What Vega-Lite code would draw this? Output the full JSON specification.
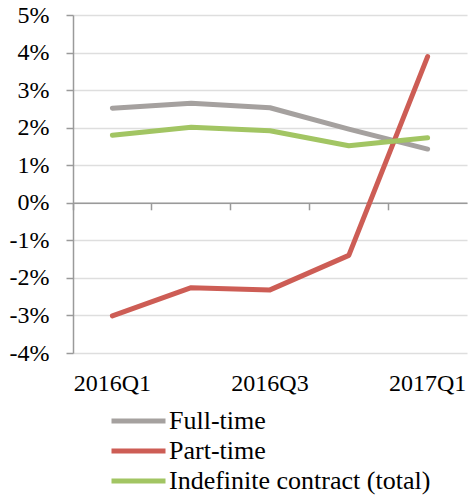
{
  "$schema": "https://vega.github.io/schema/vega-lite/v6.json",
  "width": 394,
  "height": 338,
  "autosize": {"type": "none"},
  "padding": {"left": 73, "top": 15, "right": 3, "bottom": 145},
  "background": "white",
  "config": {
    "view": {"stroke": null},
    "font": "Liberation Serif",
    "axis": {"labelFont": "Liberation Serif", "labelFontSize": 24, "labelColor": "#000"},
    "axisY": {
      "labelFont": "Liberation Serif", "labelFontSize": 24, "labelColor": "#000",
      "labelPadding": 17, "labelOverlap": false,
      "domainColor": "#9a9a9a", "domainWidth": 1.5,
      "tickColor": "#9a9a9a", "tickWidth": 1.5, "tickSize": 7,
      "gridColor": "#dedede", "gridWidth": 1.5
    },
    "legend": {"labelFont": "Liberation Serif"}
  },
  "data": {
    "values": [
      {"quarter": "2016Q1", "series": "Full-time", "value": 2.52},
      {"quarter": "2016Q2", "series": "Full-time", "value": 2.65},
      {"quarter": "2016Q3", "series": "Full-time", "value": 2.53},
      {"quarter": "2016Q4", "series": "Full-time", "value": 1.96},
      {"quarter": "2017Q1", "series": "Full-time", "value": 1.43},
      {"quarter": "2016Q1", "series": "Part-time", "value": -3.01},
      {"quarter": "2016Q2", "series": "Part-time", "value": -2.26},
      {"quarter": "2016Q3", "series": "Part-time", "value": -2.32},
      {"quarter": "2016Q4", "series": "Part-time", "value": -1.4},
      {"quarter": "2017Q1", "series": "Part-time", "value": 3.89},
      {"quarter": "2016Q1", "series": "Indefinite contract (total)", "value": 1.8},
      {"quarter": "2016Q2", "series": "Indefinite contract (total)", "value": 2.01},
      {"quarter": "2016Q3", "series": "Indefinite contract (total)", "value": 1.92},
      {"quarter": "2016Q4", "series": "Indefinite contract (total)", "value": 1.52},
      {"quarter": "2017Q1", "series": "Indefinite contract (total)", "value": 1.73}
    ]
  },
  "resolve": {"axis": {"x": "independent"}},
  "layer": [
    {
      "mark": {"type": "line", "opacity": 0},
      "encoding": {
        "x": {
          "field": "quarter", "type": "ordinal",
          "scale": {"type": "band", "paddingInner": 0, "paddingOuter": 0},
          "axis": {
            "title": null, "orient": "bottom", "labels": false, "offset": -150.2,
            "domainColor": "#9a9a9a", "domainWidth": 1.5,
            "tickColor": "#9a9a9a", "tickWidth": 1.5, "tickSize": 7,
            "bandPosition": 0, "grid": false
          }
        },
        "y": {
          "field": "value", "type": "quantitative",
          "scale": {"domain": [-4, 5], "nice": false, "zero": false},
          "axis": {
            "title": null, "values": [-4, -3, -2, -1, 0, 1, 2, 3, 4, 5],
            "labelExpr": "datum.value + '%'"
          }
        }
      }
    },
    {
      "mark": {"type": "line", "strokeWidth": 5, "strokeCap": "round", "strokeJoin": "round"},
      "encoding": {
        "x": {
          "field": "quarter", "type": "ordinal",
          "scale": {"type": "band", "paddingInner": 0, "paddingOuter": 0},
          "axis": {
            "title": null, "orient": "bottom", "domain": false, "ticks": false, "grid": false,
            "labelAngle": 0, "labelFontSize": 24, "labelColor": "#000",
            "labelPadding": 18, "labelOverlap": false,
            "labelExpr": "datum.value == '2016Q2' || datum.value == '2016Q4' ? '' : datum.value"
          }
        },
        "y": {
          "field": "value", "type": "quantitative",
          "scale": {"domain": [-4, 5], "nice": false, "zero": false},
          "axis": {
            "title": null, "values": [-4, -3, -2, -1, 0, 1, 2, 3, 4, 5],
            "labelExpr": "datum.value + '%'"
          }
        },
        "color": {
          "field": "series", "type": "nominal",
          "sort": ["Full-time", "Part-time", "Indefinite contract (total)"],
          "scale": {
            "domain": ["Full-time", "Part-time", "Indefinite contract (total)"],
            "range": ["#a5a19f", "#cd5d55", "#a2c563"]
          },
          "legend": {
            "title": null, "orient": "none", "legendX": 36, "legendY": 393,
            "symbolType": "stroke", "symbolSize": 2916, "symbolStrokeWidth": 5,
            "labelFontSize": 26, "labelColor": "#000", "labelOffset": 1,
            "clipHeight": 26, "rowPadding": 4, "labelLimit": 400
          }
        }
      }
    }
  ]
}
